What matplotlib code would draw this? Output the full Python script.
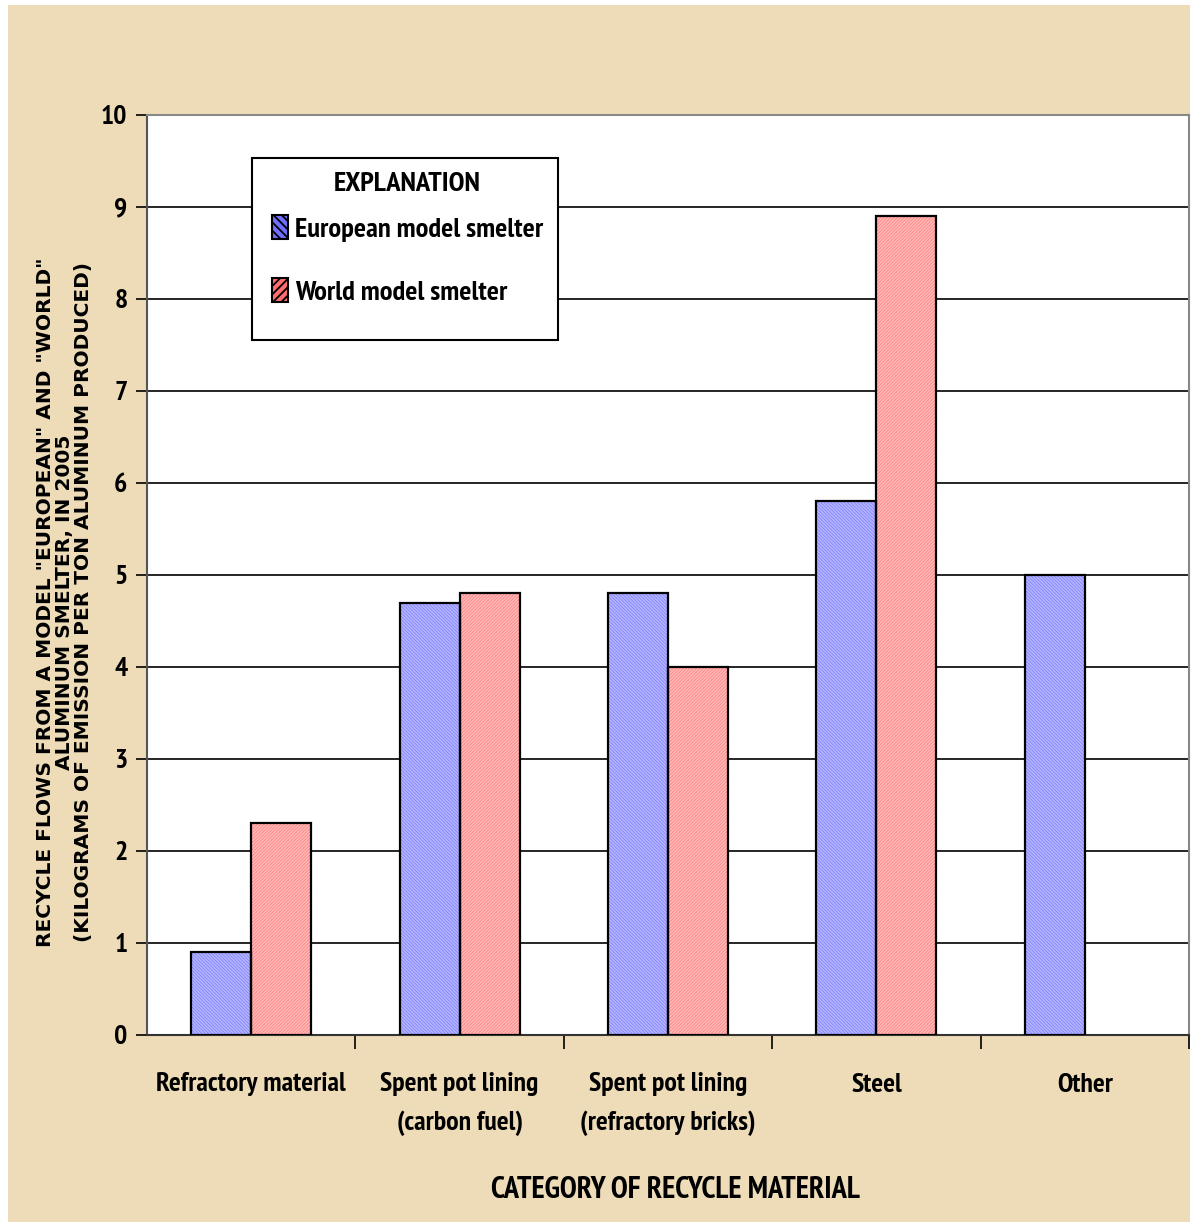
import matplotlib
matplotlib.use("Agg")
import matplotlib.pyplot as plt
import matplotlib.patches as mpatches
import numpy as np

categories = ["Refractory material", "Spent pot lining\n(carbon fuel)",
              "Spent pot lining\n(refractory bricks)", "Steel", "Other"]
european = [0.9, 4.7, 4.8, 5.8, 5.0]
world = [2.3, 4.8, 4.0, 8.9, np.nan]
series_names = ["European model smelter", "World model smelter"]
yticks = list(range(0, 11))

NARROW = ['Liberation Sans Narrow', 'PT Sans Narrow', 'Barlow Semi Condensed', 'Liberation Sans']
WIDE = ['DejaVu Sans']
plt.rcParams['hatch.linewidth'] = 1.3

fig = plt.figure(figsize=(11.98, 12.26), dpi=100, facecolor='white')
W, H = 1198, 1226
bg = mpatches.Rectangle((8 / W, 1 - 1222 / H), (1190 - 8) / W, (1222 - 5) / H,
                        transform=fig.transFigure, facecolor='#EDDCB7',
                        edgecolor='none', zorder=-10)
fig.patches.append(bg)

AX_L, AX_R, AX_T, AX_B = 147, 1189, 115, 1035
ax = fig.add_axes([AX_L / W, 1 - AX_B / H, (AX_R - AX_L) / W, (AX_B - AX_T) / H])
ax.set_facecolor('white')


def axx(px):
    return (px - AX_L) / (AX_R - AX_L)


def axy(py):
    return (AX_B - py) / (AX_B - AX_T)


x = np.arange(len(categories))
bw = 0.288
styles = [('#6E6EFF', '#B4B4FF', '\\' * 10), ('#FF6E6E', '#FFB8B8', '/' * 10)]
for i, (vals, (fc, hc, hp)) in enumerate(zip([european, world], styles)):
    xs = x - bw / 2 + i * bw
    ax.bar(xs, vals, bw, facecolor=fc, edgecolor=hc, hatch=hp, linewidth=0, zorder=3)
    ax.bar(xs, vals, bw, facecolor='none', edgecolor='black', linewidth=1.6, zorder=4)

ax.set_xlim(-0.5, len(categories) - 0.5)
ax.set_ylim(0, 10)
ax.set_yticks(yticks)
ax.set_yticklabels([str(t) for t in yticks], fontsize=20, fontweight='bold', family=NARROW)
ax.yaxis.grid(True, color='black', linewidth=1.2, zorder=1)
ax.set_axisbelow(True)

ax.set_xticks(x)
ax.set_xticklabels(categories, fontsize=20, fontweight='bold', family=NARROW, linespacing=1.7)
ax.tick_params(axis='x', which='major', length=0, pad=27)
ax.set_xticks(np.arange(-0.5, len(categories) + 0.5, 1)[1:], minor=True)
ax.tick_params(axis='x', which='minor', length=10, width=1.2, direction='out', color='black')
ax.tick_params(axis='y', length=8, width=1.2, direction='out', pad=6)

for s in ['top', 'right']:
    ax.spines[s].set_color('#888888')
    ax.spines[s].set_linewidth(1.5)
ax.spines['left'].set_color('#555555')
ax.spines['left'].set_linewidth(1.5)
ax.spines['bottom'].set_color('#333333')
ax.spines['bottom'].set_linewidth(1.5)

ax.set_xlabel("CATEGORY OF RECYCLE MATERIAL", fontsize=22, fontweight='bold', family=NARROW)
ax.xaxis.set_label_coords(axx(675), axy(1176))
ax.set_ylabel('RECYCLE FLOWS FROM A MODEL "EUROPEAN" AND "WORLD"\n'
              'ALUMINUM SMELTER, IN 2005\n'
              '(KILOGRAMS OF EMISSION PER TON ALUMINUM PRODUCED)',
              fontsize=14.5, fontweight='bold', family=WIDE, linespacing=0.99)
ax.yaxis.set_label_coords(axx(93), axy(602))

# legend frame
frame = mpatches.Rectangle((axx(252), axy(340)), axx(558) - axx(252), axy(158) - axy(340),
                           transform=ax.transAxes, facecolor='white', edgecolor='black',
                           linewidth=1.5, zorder=9)
ax.add_patch(frame)

handles = [mpatches.Patch(facecolor=styles[0][0], edgecolor='black', hatch='\\\\\\\\', linewidth=1.5),
           mpatches.Patch(facecolor=styles[1][0], edgecolor='black', hatch='////', linewidth=1.5)]
leg = ax.legend(handles, series_names, title="EXPLANATION", loc='upper left',
                bbox_to_anchor=(axx(272), axy(172)), frameon=False,
                prop={'family': NARROW, 'weight': 'bold', 'size': 20.5},
                title_fontproperties={'family': NARROW, 'weight': 'bold', 'size': 20.5},
                handlelength=0.55, handleheight=0.9, handletextpad=0.25,
                labelspacing=1.27, borderpad=0, borderaxespad=0)
leg._legend_box.sep = 14
leg.set_zorder(10)

fig.savefig("out.png", dpi=100, facecolor=fig.get_facecolor())
